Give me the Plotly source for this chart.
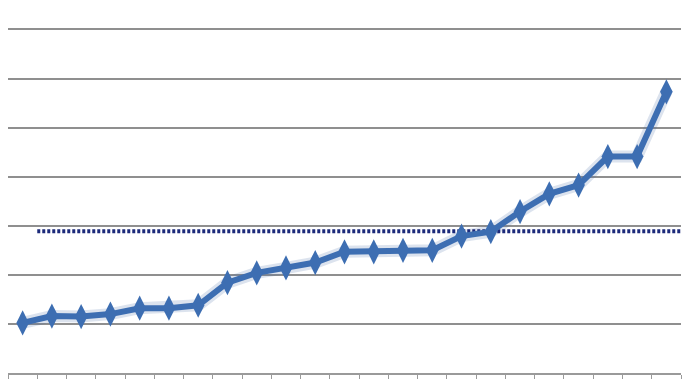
import plotly.graph_objects as go

categories = list(range(23))
values = [10.2, 11.6, 11.5, 12.0, 13.2, 13.2, 13.8, 18.4, 20.4, 21.4, 22.5, 24.7,
          24.7, 25.0, 25.0, 27.9, 28.8, 32.9, 36.5, 38.3, 44.1, 44.1, 57.3]
avg_x = [0.5, 22.5]
avg_y = [28.9, 28.9]
grid_vals = [0, 10, 20, 30, 40, 50, 60, 70]

fig = go.Figure()
# soft shadow under the main line
fig.add_trace(go.Scatter(x=categories, y=values, mode="lines",
                         line=dict(color="rgba(60,100,160,0.18)", width=12),
                         hoverinfo="skip", showlegend=False))
fig.add_trace(go.Scatter(x=avg_x, y=avg_y, mode="lines",
                         line=dict(color="#1c2a7a", width=4, dash="3px,2px"),
                         showlegend=False))
fig.add_trace(go.Scatter(x=categories, y=values, mode="lines+markers",
                         line=dict(color="#3d6eb2", width=6),
                         marker=dict(symbol="diamond-tall", size=18, color="#3d6eb2",
                                     line=dict(width=0)),
                         showlegend=False))

fig.update_layout(
    width=691, height=379,
    margin=dict(l=8, r=10, t=0, b=6),
    paper_bgcolor="white", plot_bgcolor="white",
    xaxis=dict(range=[-0.5, 22.5], tickvals=[i - 0.5 for i in range(24)],
               showticklabels=False, ticks="outside", ticklen=7,
               tickcolor="#9a9a9a", tickwidth=1, showgrid=False,
               showline=True, linecolor="#9a9a9a", linewidth=1.5, zeroline=False),
    yaxis=dict(range=[0, 76], tickvals=grid_vals, showticklabels=False,
               showgrid=True, gridcolor="#8f8f8f", gridwidth=1.8,
               zeroline=False, showline=False, ticks=""),
)
fig.write_html("out.html")
